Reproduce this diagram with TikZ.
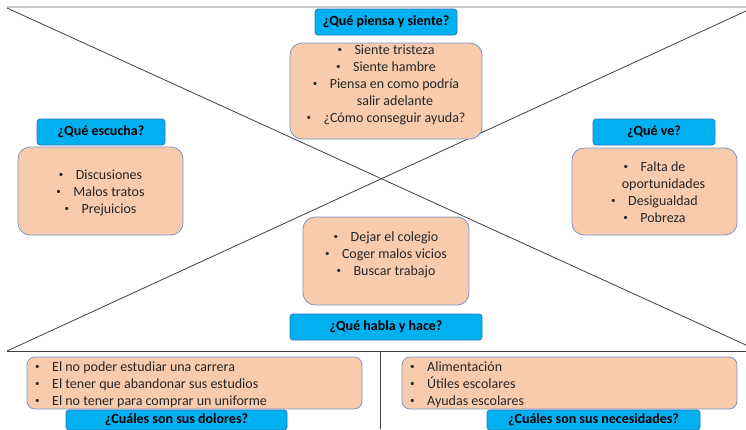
\documentclass[tikz,border=0pt]{standalone}
\usepackage{fontspec}
\setmainfont{Carlito}
\definecolor{titlefill}{HTML}{00B0F0}
\definecolor{titleline}{HTML}{2E75B6}
\definecolor{cardfill}{HTML}{F8CBAD}
\definecolor{cardline}{HTML}{7A96C8}
\newcommand{\itm}{\raisebox{0.2ex}{\fontsize{9}{9}\selectfont\textbullet}\hspace{12.5pt}}

\begin{document}
\begin{tikzpicture}[x=1pt, y=-1pt,
    frame/.style={draw=black!75, line width=0.8pt},
    topline/.style={draw=black!22, line width=2pt},
    title/.style={draw=titleline, fill=titlefill, rounded corners=3pt, line width=0.7pt,
                  inner sep=0pt, font=\fontsize{14}{17}\selectfont\bfseries},
    card/.style={draw=cardline, fill=cardfill, rounded corners=12pt, line width=0.8pt, inner sep=0pt},
    wide card/.style={card, rounded corners=8pt},
    card text/.style={font=\fontsize{14}{17}\selectfont, text=black!85, align=center, inner sep=0pt,
                      yshift=-1.5pt},
    list text/.style={card text, align=left, anchor=west}]

    \useasboundingbox (0,0) rectangle (746,429);
    \clip (0,0) rectangle (746,429);

    % quadrant lines
    \draw[topline] (7,7) -- (746,7);
    \draw[frame] (7,8) -- (746,345);
    \draw[frame] (7,351) -- (746,11);
    \draw[frame] (7,351) -- (746,351);
    \draw[frame] (380,351) -- (380,429);

    % top: thinks and feels
    \node[title, minimum width=142, minimum height=26] (thinktitle) at (386,22) {¿Qué piensa y siente?};
    \node[card, minimum width=192, minimum height=96] (thinkcard) at (386,91) {};
    \node[card text] (thinklist) at (386,83) {\itm Siente tristeza\\ \itm Siente hambre\\
        \itm Piensa en como podría\\ \hspace*{18pt}salir adelante\\ \itm ¿Cómo conseguir ayuda?};

    % left: hears
    \node[title, minimum width=128, minimum height=26] (heartitle) at (101,132) {¿Qué escucha?};
    \node[card, minimum width=165, minimum height=88] (hearcard) at (100.5,191) {};
    \node[card text] (hearlist) at (100.5,191) {\itm Discusiones\\ \itm Malos tratos\\ \itm Prejuicios};

    % right: sees
    \node[title, minimum width=122, minimum height=26] (seetitle) at (654,132) {¿Qué ve?};
    \node[card, minimum width=165, minimum height=87] (seecard) at (654.5,191.5) {};
    \node[card text] (seelist) at (654.5,190.5) {\itm Falta de\\ \hspace*{18pt}oportunidades\\
        \itm Desigualdad\\ \itm Pobreza};

    % bottom: says and does
    \node[card, minimum width=166, minimum height=88] (docard) at (386,261) {};
    \node[card text] (dolist) at (386,253) {\itm Dejar el colegio\\ \itm Coger malos vicios\\ \itm Buscar trabajo};
    \node[title, minimum width=192, minimum height=26] (dotitle) at (386,327) {¿Qué habla y hace?};

    % pains
    \node[wide card, minimum width=335, minimum height=52] (paincard) at (194.5,383) {};
    \node[list text] (painlist) at (35,383) {\itm El no poder estudiar una carrera\\
        \itm El tener que abandonar sus estudios\\ \itm El no tener para comprar un uniforme};
    \node[title, minimum width=221, minimum height=20] (paintitle) at (176.5,420) {¿Cuáles son sus dolores?};

    % needs
    \node[wide card, minimum width=335, minimum height=52] (needcard) at (569.5,383) {};
    \node[list text] (needlist) at (410,383) {\itm Alimentación\\ \itm Útiles escolares\\ \itm Ayudas escolares};
    \node[title, minimum width=213, minimum height=20] (needtitle) at (593.5,420) {¿Cuáles son sus necesidades?};
\end{tikzpicture}
\end{document}
